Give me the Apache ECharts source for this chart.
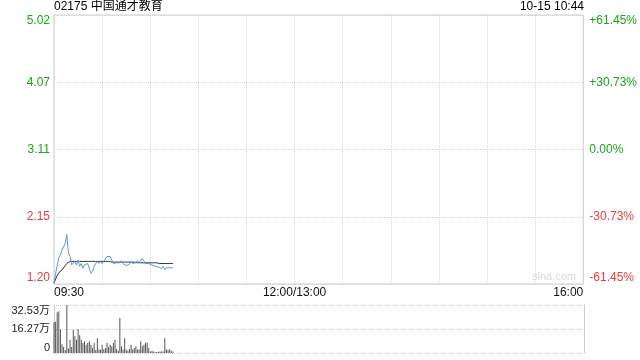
<!DOCTYPE html>
<html><head><meta charset="utf-8">
<script src="https://cdn.jsdelivr.net/npm/echarts@6/dist/echarts.min.js"></script>
<style>html,body{margin:0;padding:0;background:#fff}#c{width:640px;height:360px}</style>
</head><body><div id="c"></div>
<script>
const titleText = '02175 中国通才教育';
const dateText = '10-15 10:44';
const prevClose = 3.11;
const pctMax = 61.45;
const priceTicks = ['1.20','2.15','3.11','4.07','5.02'];
const pctTicks = ['-61.45%','-30.73%','0.00%','+30.73%','+61.45%'];
const timeTicks = ['09:30','','','','','12:00/13:00','','','','','','16:00'];
const volTicks = ['0','16.27万','32.53万'];
const volMax = 32.53;

const price = [1.21,1.35,1.35,1.57,1.61,1.68,1.66,1.78,1.90,1.64,
  1.59,1.47,1.45,1.52,1.47,1.54,1.45,1.49,1.42,1.47,
  1.45,1.49,1.42,1.35,1.38,1.45,1.49,1.52,1.49,1.52,
  1.49,1.52,1.54,1.59,1.58,1.59,1.57,1.49,1.49,1.50,
  1.50,1.50,1.53,1.49,1.47,1.46,1.46,1.48,1.52,1.49,
  1.49,1.50,1.53,1.50,1.52,1.56,1.53,1.49,1.47,1.49,
  1.47,1.47,1.46,1.45,1.45,1.44,1.46,1.42,1.45,1.40,
  1.43,1.43,1.43,1.43,1.43];
const avgPrice = [1.21,1.27,1.32,1.36,1.38,1.40,1.42,1.46,1.49,1.51,
  1.52,1.52,1.52,1.52,1.52,1.52,1.52,1.52,1.52,1.52,
  1.52,1.52,1.52,1.52,1.52,1.52,1.52,1.52,1.52,1.52,
  1.52,1.52,1.52,1.52,1.52,1.52,1.51,1.51,1.51,1.51,
  1.51,1.51,1.51,1.51,1.51,1.51,1.51,1.51,1.51,1.51,
  1.51,1.50,1.50,1.50,1.50,1.50,1.50,1.50,1.50,1.50,
  1.50,1.50,1.50,1.50,1.50,1.50,1.49,1.49,1.49,1.49,
  1.49,1.49,1.49,1.49,1.49];
const volume = [20.8,21.2,27.6,28.3,15.8,6,4,2,32.5,3,
  9,4,15.6,11.3,9,16.3,12,9,6.8,7.9,
  5.6,6.8,7.9,5.6,3.4,6.8,2,10,2.3,2.3,
  5.6,2.3,3.4,6.8,4,5.6,4.5,6.8,9,2.7,
  1.5,23.7,4.5,2.3,10,2.3,1.6,2.7,5.6,2.3,
  3.4,4.5,2.3,2.3,7.9,4.5,5.6,6.8,7.2,3.4,
  1.1,1.6,1.1,0.5,0.7,0.9,1.1,1.1,1.1,10,
  2.3,1.8,2.7,1.6,1.0];

const GREEN = '#1ca31c', RED = '#f03c3c';
const toPct = p => (p / prevClose - 1) * 100;
const half = pctMax / 2;
const tickIdx = v => Math.round((Number(v) + pctMax) / half);
const font = "'Liberation Sans','Noto Sans CJK SC',Arial,sans-serif";

const chart = echarts.init(document.getElementById('c'), null, {renderer: 'canvas'});
chart.setOption({
  animation: false,
  textStyle: {fontFamily: font},
  title: [
    {text: titleText, left: 54, top: 1, padding: 0, textStyle: {fontSize: 12, fontWeight: 'normal', color: '#000', fontFamily: font}},
    {text: dateText, right: 56, top: 1, padding: 0, textStyle: {fontSize: 12, fontWeight: 'normal', color: '#000', fontFamily: font}}
  ],
  grid: [
    {left: 54, top: 15, width: 530, height: 269, show: true, borderColor: '#cccccc', borderWidth: 1, backgroundColor: 'transparent'},
    {left: 54, top: 305, width: 530, height: 48, show: false}
  ],
  xAxis: [
    {gridIndex: 0, type: 'value', min: 0, max: 330, interval: 30,
      axisLine: {show: false}, axisTick: {show: false},
      axisLabel: {fontSize: 12, color: '#111', margin: 3, showMinLabel: true, showMaxLabel: true,
        alignMinLabel: 'left', alignMaxLabel: 'right',
        formatter: v => timeTicks[Math.round(v / 30)] || ''},
      splitLine: {show: true, lineStyle: {color: '#d6d6d6', type: 'dotted'}}},
    {gridIndex: 1, type: 'value', min: 0, max: 330, interval: 30,
      axisLine: {show: false}, axisTick: {show: false}, axisLabel: {show: false}, splitLine: {show: false}}
  ],
  yAxis: [
    {gridIndex: 0, type: 'value', position: 'left', min: -pctMax, max: pctMax, interval: half,
      axisLine: {show: false}, axisTick: {show: false},
      axisLabel: {fontSize: 12, margin: 4, showMinLabel: true, showMaxLabel: true,
        verticalAlignMinLabel: 'bottom', verticalAlignMaxLabel: 'top',
        formatter: v => priceTicks[tickIdx(v)],
        color: v => (Number(v) > -0.01 ? GREEN : RED)},
      splitLine: {show: true, lineStyle: {color: '#d6d6d6', type: 'dotted'}}},
    {gridIndex: 0, type: 'value', position: 'right', min: -pctMax, max: pctMax, interval: half,
      axisLine: {show: false}, axisTick: {show: false},
      axisLabel: {fontSize: 12, margin: 6, showMinLabel: true, showMaxLabel: true,
        verticalAlignMinLabel: 'bottom', verticalAlignMaxLabel: 'top',
        formatter: v => pctTicks[tickIdx(v)],
        color: v => (Number(v) > -0.01 ? GREEN : RED)},
      splitLine: {show: false}},
    {gridIndex: 1, type: 'value', position: 'left', min: 0, max: volMax, interval: volMax / 2,
      axisLine: {show: true, lineStyle: {color: '#cccccc'}}, axisTick: {show: false},
      axisLabel: {fontSize: 11, margin: 4, color: '#222', showMinLabel: true, showMaxLabel: true,
        verticalAlignMinLabel: 'bottom', verticalAlignMaxLabel: 'top',
        formatter: v => volTicks[Math.round(Number(v) / (volMax / 2))]},
      splitLine: {show: true, lineStyle: {color: '#cccccc', type: 'dotted'}}},
    {gridIndex: 1, type: 'value', position: 'right', min: 0, max: volMax, interval: volMax / 2,
      axisLine: {show: true, lineStyle: {color: '#cccccc'}}, axisTick: {show: false},
      axisLabel: {show: false}, splitLine: {show: false}}
  ],
  graphic: [
    {type: 'text', left: 532, top: 271, silent: true,
      style: {text: 'sina.com', fill: '#d9d9d9', font: "11px 'Liberation Sans', Arial, sans-serif"}}
  ],
  series: [
    {type: 'line', xAxisIndex: 0, yAxisIndex: 0, showSymbol: false, symbol: 'none',
      lineStyle: {color: '#5b93ee', width: 1}, z: 3,
      data: price.map((p, i) => [i, toPct(p)])},
    {type: 'line', xAxisIndex: 0, yAxisIndex: 0, showSymbol: false, symbol: 'none',
      lineStyle: {color: '#333333', width: 1}, z: 2,
      data: avgPrice.map((p, i) => [i, toPct(p)])},
    {type: 'bar', xAxisIndex: 1, yAxisIndex: 2, barWidth: 1,
      itemStyle: {color: '#555555'},
      data: volume.map((v, i) => [i, v])}
  ]
});
</script></body></html>
